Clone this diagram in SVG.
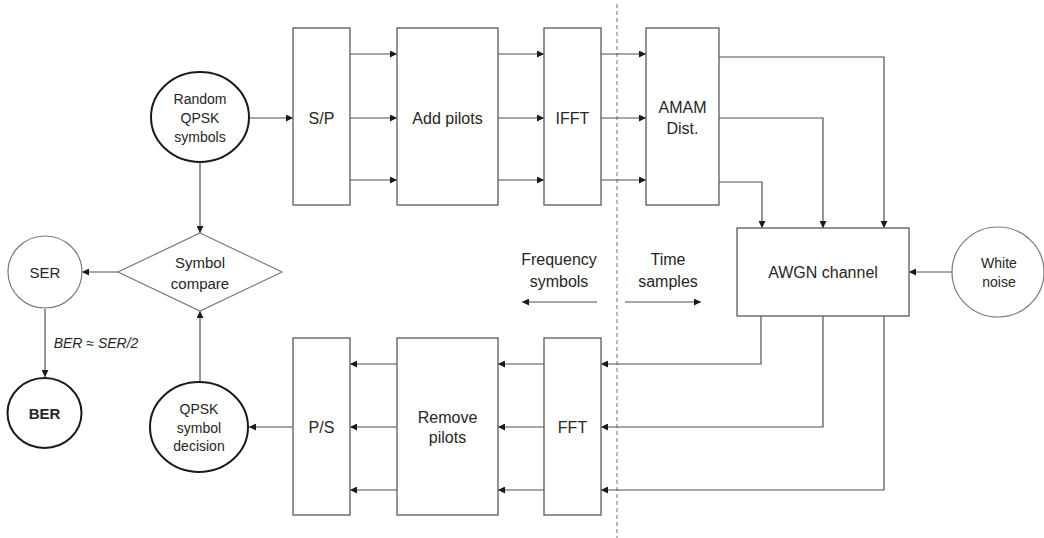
<svg xmlns="http://www.w3.org/2000/svg" width="1044" height="538" viewBox="0 0 1044 538">
  <style>
    .box { fill: #ffffff; stroke: #595959; stroke-width: 1.3; }
    .thin { fill: #ffffff; stroke: #7a7a7a; stroke-width: 1.2; }
    .bold { fill: #ffffff; stroke: #1a1a1a; stroke-width: 2; }
    .wire { fill: none; stroke: #505050; stroke-width: 1.2; marker-end: url(#ah); }
    .plain { fill: none; stroke: #505050; stroke-width: 1.2; }
    .dash { fill: none; stroke: #808080; stroke-width: 1.1; stroke-dasharray: 4 3; }
    text { font-family: "Liberation Sans", Arial, sans-serif; fill: #262626; text-anchor: middle; dominant-baseline: central; }
    .l16 { font-size: 16px; }
    .l15 { font-size: 15px; }
    .l14 { font-size: 14px; }
  </style>
  <defs>
    <marker id="ah" viewBox="0 0 10 10" refX="10" refY="5" markerWidth="7" markerHeight="7" markerUnits="userSpaceOnUse" orient="auto">
      <path d="M0,0 L10,5 L0,10 z" fill="#1a1a1a"/>
    </marker>
  </defs>
  <rect width="1044" height="538" fill="#ffffff"/>

  <!-- frequency / time domain boundary -->
  <line class="dash" x1="617" y1="4" x2="617" y2="538"/>

  <g id="connectors">
    <!-- transmitter chain -->
    <line class="wire" x1="249" y1="118" x2="293" y2="118"/>
    <line class="wire" x1="350" y1="54" x2="397" y2="54"/>
    <line class="wire" x1="350" y1="118" x2="397" y2="118"/>
    <line class="wire" x1="350" y1="180" x2="397" y2="180"/>
    <line class="wire" x1="498" y1="54" x2="544" y2="54"/>
    <line class="wire" x1="498" y1="118" x2="544" y2="118"/>
    <line class="wire" x1="498" y1="180" x2="544" y2="180"/>
    <line class="wire" x1="601" y1="54" x2="646" y2="54"/>
    <line class="wire" x1="601" y1="118" x2="646" y2="118"/>
    <line class="wire" x1="601" y1="180" x2="646" y2="180"/>
    <!-- AMAM to channel -->
    <polyline class="wire" points="719,57 884,57 884,228"/>
    <polyline class="wire" points="719,118 823,118 823,228"/>
    <polyline class="wire" points="719,182 762,182 762,228"/>
    <line class="wire" x1="952" y1="272" x2="909" y2="272"/>
    <!-- channel to FFT -->
    <polyline class="wire" points="761,316 761,364 601,364"/>
    <polyline class="wire" points="823,316 823,427 601,427"/>
    <polyline class="wire" points="884,316 884,490 601,490"/>
    <!-- receiver chain -->
    <line class="wire" x1="544" y1="364" x2="498" y2="364"/>
    <line class="wire" x1="544" y1="427" x2="498" y2="427"/>
    <line class="wire" x1="544" y1="490" x2="498" y2="490"/>
    <line class="wire" x1="397" y1="364" x2="350" y2="364"/>
    <line class="wire" x1="397" y1="427" x2="350" y2="427"/>
    <line class="wire" x1="397" y1="490" x2="350" y2="490"/>
    <line class="wire" x1="293" y1="427" x2="249" y2="427"/>
    <!-- comparison and error rates -->
    <line class="wire" x1="200" y1="162" x2="200" y2="233"/>
    <line class="wire" x1="200" y1="381" x2="200" y2="311"/>
    <line class="wire" x1="118" y1="272" x2="82" y2="272"/>
    <line class="wire" x1="45" y1="309" x2="45" y2="377"/>
    <!-- domain direction arrows -->
    <line class="wire" x1="597" y1="302" x2="522" y2="302"/>
    <line class="wire" x1="625" y1="302" x2="701" y2="302"/>
  </g>

  <g id="random-qpsk">
    <ellipse class="bold" cx="200" cy="117" rx="49" ry="45"/>
    <text class="l14" x="200" y="99">Random</text>
    <text class="l14" x="200" y="118">QPSK</text>
    <text class="l14" x="200" y="137">symbols</text>
  </g>
  <g id="sp">
    <rect class="box" x="293" y="28" width="57" height="177"/>
    <text class="l16" x="321.5" y="118">S/P</text>
  </g>
  <g id="add-pilots">
    <rect class="box" x="397" y="28" width="101" height="177"/>
    <text class="l16" x="447.5" y="118">Add pilots</text>
  </g>
  <g id="ifft">
    <rect class="box" x="544" y="28" width="57" height="177"/>
    <text class="l16" x="572.5" y="118">IFFT</text>
  </g>
  <g id="amam">
    <rect class="box" x="646" y="28" width="73" height="177"/>
    <text class="l16" x="682.5" y="107">AMAM</text>
    <text class="l16" x="682.5" y="128">Dist.</text>
  </g>
  <g id="awgn">
    <rect class="box" x="737" y="228" width="172" height="88"/>
    <text class="l16" x="823" y="272">AWGN channel</text>
  </g>
  <g id="white-noise">
    <ellipse class="thin" cx="998" cy="272" rx="46" ry="45"/>
    <text class="l14" x="999" y="263">White</text>
    <text class="l14" x="999" y="282">noise</text>
  </g>
  <g id="fft">
    <rect class="box" x="544" y="338" width="57" height="177"/>
    <text class="l16" x="572.5" y="427">FFT</text>
  </g>
  <g id="remove-pilots">
    <rect class="box" x="397" y="338" width="101" height="177"/>
    <text class="l16" x="447.5" y="417">Remove</text>
    <text class="l16" x="447.5" y="437">pilots</text>
  </g>
  <g id="ps">
    <rect class="box" x="293" y="338" width="57" height="177"/>
    <text class="l16" x="321.5" y="427">P/S</text>
  </g>
  <g id="qpsk-decision">
    <ellipse class="bold" cx="199" cy="427" rx="49" ry="45"/>
    <text class="l14" x="199" y="409">QPSK</text>
    <text class="l14" x="199" y="428">symbol</text>
    <text class="l14" x="199" y="446">decision</text>
  </g>
  <g id="symbol-compare">
    <polygon class="thin" points="200,233 282,272 200,311 118,272"/>
    <text class="l15" x="200" y="262">Symbol</text>
    <text class="l15" x="200" y="283">compare</text>
  </g>
  <g id="ser">
    <ellipse class="thin" cx="45" cy="272" rx="37" ry="36"/>
    <text class="l15" x="45" y="272">SER</text>
  </g>
  <g id="ber">
    <ellipse class="bold" cx="44.5" cy="413" rx="37" ry="35"/>
    <text class="l15" x="44.5" y="413" font-weight="bold">BER</text>
  </g>
  <text class="l14" x="96" y="343" font-style="italic">BER ≈ SER/2</text>

  <g id="domain-labels">
    <text class="l16" x="559" y="259">Frequency</text>
    <text class="l16" x="559" y="281">symbols</text>
    <text class="l16" x="668" y="259">Time</text>
    <text class="l16" x="668" y="281">samples</text>
  </g>
</svg>
